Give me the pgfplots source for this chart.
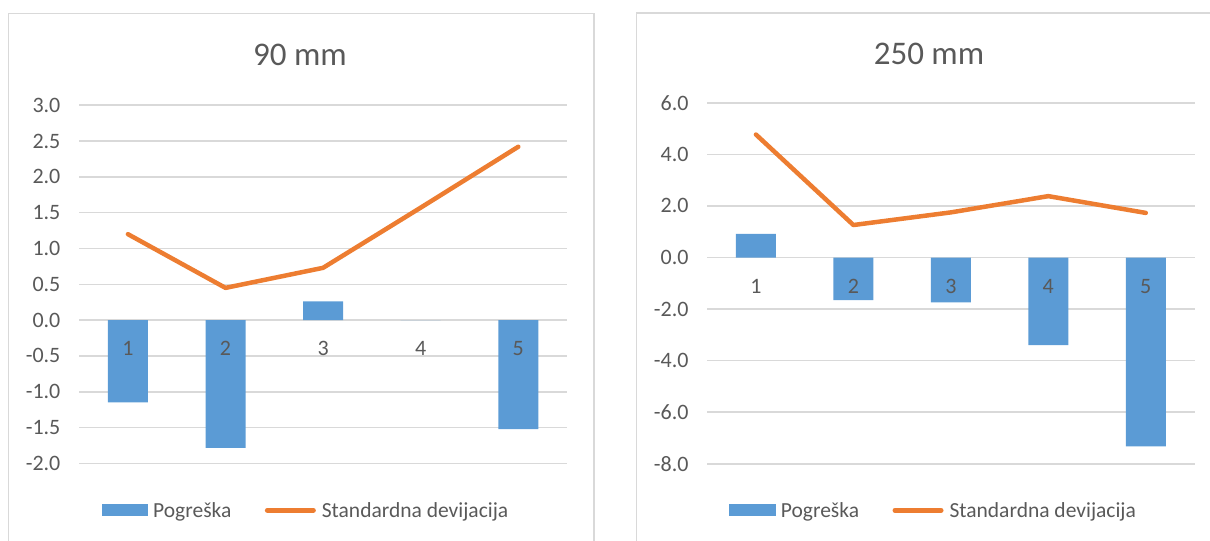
\documentclass[border=0pt]{standalone}
\usepackage{pgfplots}
\pgfplotsset{compat=1.18}
\usepackage{fontspec}
\setmainfont{Carlito}

\definecolor{barblue}{HTML}{5B9BD5}
\definecolor{lineorange}{HTML}{ED7D31}
\definecolor{gridgray}{HTML}{D9D9D9}
\definecolor{txtgray}{HTML}{595959}

\newcommand{\tickfont}{\fontsize{22bp}{26bp}\selectfont}
\newcommand{\legfont}{\fontsize{21.5bp}{25bp}\selectfont}

\pgfplotsset{
  excelchart/.style={
    scale only axis,
    anchor=south west,
    xmin=0.5, xmax=5.5,
    xtick=\empty,
    axis line style={draw=none},
    major tick style={draw=none},
    ymajorgrids,
    grid style={gridgray, line width=1.5bp},
    yticklabel style={font=\tickfont, text=txtgray, inner sep=0pt, anchor=east, xshift=-18.5bp},
    legend columns=2,
    legend cell align=left,
    legend style={draw=none, fill=none, inner sep=0pt, anchor=west,
      font=\legfont, text=txtgray,
      nodes={inner sep=0pt},
      /tikz/every even column/.append style={column sep=33.5bp}},
  },
  barleg/.style={legend image code/.code={\fill[barblue] (0bp,-6bp) rectangle (46.5bp,6bp);}},
  lineleg/.style={legend image code/.code={\draw[lineorange, line width=5bp, line cap=round] (1.5bp,0bp) -- (47.5bp,0bp);}},
  errbars/.style={ybar, bar width=40bp, fill=barblue, draw=none, barleg},
  sdline/.style={lineorange, line width=4.5bp, line cap=round, line join=round, mark=none, lineleg},
}

\begin{document}
\begin{tikzpicture}
\useasboundingbox (0bp,0bp) rectangle (1210bp,541bp);

% chart frames
\draw[gridgray, line width=1.3bp] (8.5bp,-10bp) rectangle (594bp,527.2bp);
\draw[gridgray, line width=1.3bp] (636.6bp,-10bp) rectangle (1225bp,527.9bp);

% titles
\node[text=txtgray, font=\fontsize{33bp}{38bp}\selectfont] at (300bp,486bp) {90 mm};
\node[text=txtgray, font=\fontsize{33bp}{38bp}\selectfont] at (929bp,487bp) {250 mm};

% ---------- 90 mm ----------
\begin{axis}[
  excelchart,
  at={(79.1bp,77.6bp)},
  width=488bp, height=358.2bp,
  ymin=-2, ymax=3,
  ytick={-2,-1.5,-1,-0.5,0,0.5,1,1.5,2,2.5,3},
  yticklabels={-2.0,-1.5,-1.0,-0.5,0.0,0.5,1.0,1.5,2.0,2.5,3.0},
  legend style={at={(axis description cs:0.0459,-0.131)}},
]
\addplot[errbars] coordinates {(1,-1.147) (2,-1.785) (3,0.26) (4,0) (5,-1.52)};
\addlegendentry{\hspace{5bp}Pogreška}
\addplot[sdline] coordinates {(1,1.20) (2,0.45) (3,0.73) (4,1.57) (5,2.42)};
\addlegendentry{\hspace{6bp}Standardna devijacija}
\foreach \i in {1,...,5}{
  \edef\temp{\noexpand\node[text=txtgray, font=\noexpand\tickfont, yshift=-28.6bp] at (axis cs:\i,0) {\i};}
  \temp
}
\end{axis}

% ---------- 250 mm ----------
\begin{axis}[
  excelchart,
  at={(707.2bp,77.2bp)},
  width=487.3bp, height=361bp,
  ymin=-8, ymax=6,
  ytick={-8,-6,-4,-2,0,2,4,6},
  yticklabels={-8.0,-6.0,-4.0,-2.0,0.0,2.0,4.0,6.0},
  legend style={at={(axis description cs:0.0451,-0.129)}},
]
\addplot[errbars] coordinates {(1,0.92) (2,-1.65) (3,-1.74) (4,-3.40) (5,-7.32)};
\addlegendentry{\hspace{5bp}Pogreška}
\addplot[sdline] coordinates {(1,4.77) (2,1.26) (3,1.75) (4,2.38) (5,1.73)};
\addlegendentry{\hspace{6bp}Standardna devijacija}
\foreach \i in {1,...,5}{
  \edef\temp{\noexpand\node[text=txtgray, font=\noexpand\tickfont, yshift=-28.6bp] at (axis cs:\i,0) {\i};}
  \temp
}
\end{axis}
\end{tikzpicture}
\end{document}
